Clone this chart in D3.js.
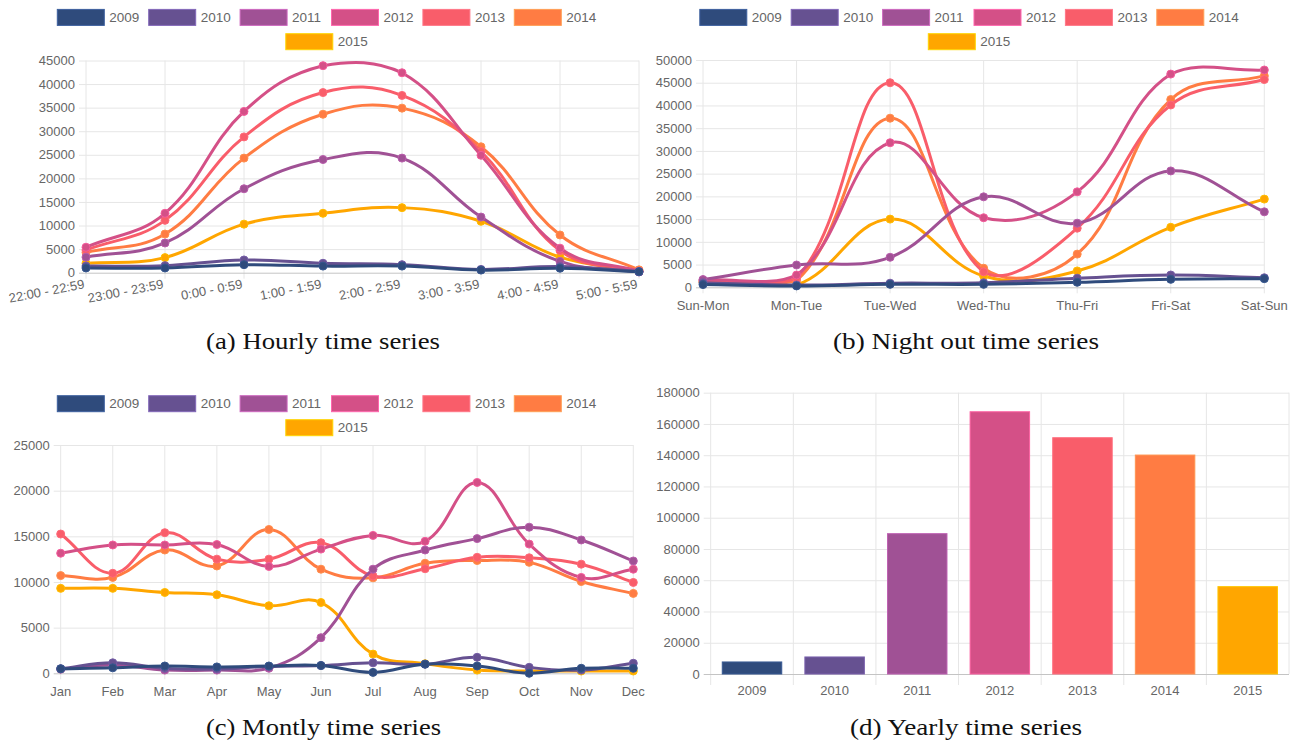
<!DOCTYPE html>
<html>
<head>
<meta charset="utf-8">
<script src="https://cdn.jsdelivr.net/npm/d3@7"></script>
<style>
  body { margin: 0; background: #fff; }
  svg { display: block; }
  text { font-family: "Liberation Sans", Arial, sans-serif; }
</style>
</head>
<body>
<svg id="chart" width="1297" height="743"></svg>
<script>
var years = ['2009', '2010', '2011', '2012', '2013', '2014', '2015'];
var colors = ['#2f4b7c', '#665191', '#a05195', '#d45087', '#f95d6a', '#ff7c43', '#ffa600'];

var hours = ['22:00 - 22:59', '23:00 - 23:59', '0:00 - 0:59', '1:00 - 1:59',
             '2:00 - 2:59', '3:00 - 3:59', '4:00 - 4:59', '5:00 - 5:59'];
// one row per year, 2009 .. 2015
var hourly = [
  [1000, 1000, 1700, 1400, 1400, 550, 950, 200],
  [1400, 1500, 2700, 2000, 1700, 700, 1300, 250],
  [3300, 6300, 17800, 24000, 24300, 11800, 2400, 150],
  [5400, 12600, 34200, 43900, 42400, 24900, 5200, 300],
  [4800, 11100, 28800, 38200, 37600, 25700, 4700, 250],
  [4300, 8200, 24300, 33600, 34900, 26700, 8000, 600],
  [2000, 3200, 10300, 12600, 13800, 10900, 3300, 300]
];

var nights = ['Sun-Mon', 'Mon-Tue', 'Tue-Wed', 'Wed-Thu', 'Thu-Fri', 'Fri-Sat', 'Sat-Sun'];
var nightly = [
  [600, 300, 650, 650, 1100, 1750, 1900],
  [1000, 500, 900, 1000, 2000, 2700, 2100],
  [1700, 4900, 6600, 19900, 14100, 25600, 16600],
  [1600, 2700, 31800, 15300, 21000, 46900, 47800],
  [1400, 2000, 45000, 3400, 13000, 40100, 45700],
  [1300, 1500, 37200, 4200, 7300, 41300, 46500],
  [1100, 500, 15000, 2500, 3600, 13200, 19400]
];

var months = ['Jan', 'Feb', 'Mar', 'Apr', 'May', 'Jun', 'Jul', 'Aug', 'Sep', 'Oct', 'Nov', 'Dec'];
var monthly = [
  [500, 600, 800, 700, 800, 850, 100, 1000, 800, 0, 550, 550],
  [500, 1150, 550, 470, 750, 850, 1150, 1000, 1750, 650, 350, 1100],
  [450, 900, 350, 350, 550, 3900, 11400, 13500, 14750, 16000, 14600, 12300],
  [13150, 14050, 14050, 14100, 11700, 13600, 15100, 14450, 20900, 14150, 10500, 11400],
  [15250, 10950, 15400, 12500, 12500, 14300, 10650, 11450, 12700, 12650, 11950, 9950],
  [10700, 10500, 13500, 11750, 15750, 11400, 10450, 12050, 12350, 12150, 10050, 8750],
  [9300, 9300, 8850, 8600, 7400, 7750, 2100, 1050, 350, 250, 250, 250]
];

var yearly = [7700, 10900, 89800, 167800, 151200, 140100, 55900];

var svg = d3.select('#chart');
var gridColor = '#e6e6e6', zeroColor = '#c4c4c4', labelColor = '#666';

// legend, two centred rows like chart.js does it
function drawLegend(cx, rowY) {
  var stride = 91.4;
  [years.slice(0, 6), years.slice(6)].forEach(function (row, r) {
    var x0 = cx - (row.length * stride - 10) / 2;
    row.forEach(function (yr, i) {
      var k = years.indexOf(yr), x = x0 + i * stride;
      svg.append('rect')
        .attr('x', x).attr('y', rowY[r] - 8)
        .attr('width', 47).attr('height', 16)
        .attr('fill', colors[k])
        .attr('stroke', d3.color(colors[k]).brighter(0.7))
        .attr('stroke-width', 1);
      svg.append('text')
        .attr('x', x + 52).attr('y', rowY[r])
        .attr('dy', '0.35em')
        .style('font-size', '13.5px')
        .style('fill', labelColor)
        .text(yr);
    });
  });
}

// chart.js style bezier (tension 0.4, control points capped to the chart area)
function splinePath(pts, area) {
  var t = 0.4;
  function cap(p) {
    return [Math.max(area.left, Math.min(area.right, p[0])),
            Math.max(area.top, Math.min(area.bottom, p[1]))];
  }
  var cps = pts.map(function (p, i) {
    var prev = pts[i - 1] || p, next = pts[i + 1] || p;
    var d01 = Math.hypot(p[0] - prev[0], p[1] - prev[1]);
    var d12 = Math.hypot(next[0] - p[0], next[1] - p[1]);
    var s01 = d01 / (d01 + d12) || 0, s12 = d12 / (d01 + d12) || 0;
    var dx = next[0] - prev[0], dy = next[1] - prev[1];
    return [cap([p[0] - t * s01 * dx, p[1] - t * s01 * dy]),
            cap([p[0] + t * s12 * dx, p[1] + t * s12 * dy])];
  });
  var path = d3.path();
  path.moveTo(pts[0][0], pts[0][1]);
  for (var i = 1; i < pts.length; i++) {
    path.bezierCurveTo(cps[i - 1][1][0], cps[i - 1][1][1],
                       cps[i][0][0], cps[i][0][1], pts[i][0], pts[i][1]);
  }
  return path.toString();
}

function yAxis(g, y, ticks, left, right) {
  var ax = g.append('g')
    .attr('transform', 'translate(' + left + ',0)')
    .call(d3.axisLeft(y).tickValues(ticks).tickSize(0).tickPadding(11).tickFormat(d3.format('d')));
  ax.select('.domain').remove();
  ax.selectAll('.tick line')
    .attr('x1', -7).attr('x2', right - left)
    .attr('stroke', function (d) { return d === 0 ? zeroColor : gridColor; });
  ax.selectAll('.tick text')
    .style('font-size', '13px').style('fill', labelColor).style('font-family', null);
  return ax;
}

function linePanel(opt) {
  var g = svg.append('g');
  var x = d3.scalePoint().domain(opt.labels).range([opt.left, opt.right]);
  var y = d3.scaleLinear().domain([0, opt.max]).range([opt.bottom, opt.top]);
  var area = { left: opt.left, right: opt.right, top: opt.top, bottom: opt.bottom };

  // vertical grid
  g.append('g').selectAll('line').data(opt.labels).join('line')
    .attr('x1', function (d) { return x(d); }).attr('x2', function (d) { return x(d); })
    .attr('y1', opt.top).attr('y2', opt.bottom + 6)
    .attr('stroke', gridColor);

  yAxis(g, y, d3.range(0, opt.max + 1, opt.step), opt.left, opt.right);

  // x labels
  var xl = g.append('g').selectAll('text').data(opt.labels).join('text')
    .style('font-size', '13px').style('fill', labelColor)
    .text(function (d) { return d; });
  if (opt.rotate) {
    xl.attr('text-anchor', 'end')
      .attr('transform', function (d) {
        return 'translate(' + (x(d) - 1) + ',' + (opt.bottom + 15.5) + ') rotate(' + opt.rotate + ')';
      });
  } else {
    xl.attr('text-anchor', 'middle')
      .attr('x', function (d) { return x(d); })
      .attr('y', opt.bottom + opt.labelDy);
  }

  // datasets: chart.js draws the last dataset first
  for (var k = opt.series.length - 1; k >= 0; k--) {
    var pts = opt.series[k].map(function (v, i) { return [x(opt.labels[i]), y(v)]; });
    var s = g.append('g');
    s.append('path')
      .attr('d', splinePath(pts, area))
      .attr('fill', 'none')
      .attr('stroke', colors[k])
      .attr('stroke-width', 3);
    s.selectAll('circle').data(pts).join('circle')
      .attr('cx', function (p) { return p[0]; })
      .attr('cy', function (p) { return p[1]; })
      .attr('r', 4)
      .attr('fill', colors[k])
      .attr('stroke', d3.color(colors[k]).brighter(0.4))
      .attr('stroke-width', 1);
  }
}

function caption(cx, by, txt, len) {
  svg.append('text')
    .attr('x', cx).attr('y', by)
    .attr('text-anchor', 'middle')
    .attr('textLength', len).attr('lengthAdjust', 'spacingAndGlyphs')
    .style('font-family', '"Liberation Serif", "DejaVu Serif", serif')
    .style('font-size', '24px')
    .style('fill', '#111')
    .text(txt);
}

// (a) hourly
drawLegend(326.5, [17.4, 41.7]);
linePanel({ labels: hours, series: hourly, max: 45000, step: 5000,
  left: 86, right: 639, top: 60.5, bottom: 272.7, rotate: -11 });
caption(323, 349, '(a) Hourly time series', 234);

// (b) night out
drawLegend(969, [17.4, 41.7]);
linePanel({ labels: nights, series: nightly, max: 50000, step: 5000,
  left: 703, right: 1264.3, top: 60, bottom: 287.3, labelDy: 22.5 });
caption(966, 349, '(b) Night out time series', 266);

// (c) monthly
drawLegend(326.5, [403.7, 427.7]);
linePanel({ labels: months, series: monthly, max: 25000, step: 5000,
  left: 60.7, right: 633.3, top: 445, bottom: 673.3, labelDy: 22.5 });
caption(323.5, 735, '(c) Montly time series', 235);

// (d) yearly bars
(function () {
  var left = 710.7, right = 1289, top = 392.7, bottom = 674;
  var g = svg.append('g');
  var x = d3.scaleBand().domain(years).range([left, right]);
  var y = d3.scaleLinear().domain([0, 180000]).range([bottom, top]);

  g.append('g').selectAll('line').data(years.concat(['end'])).join('line')
    .attr('x1', function (d, i) { return left + i * x.bandwidth(); })
    .attr('x2', function (d, i) { return left + i * x.bandwidth(); })
    .attr('y1', top).attr('y2', function (d, i) { return i === years.length ? bottom : bottom + 11; })
    .attr('stroke', gridColor);

  yAxis(g, y, d3.range(0, 180001, 20000), left, right);

  g.append('g').selectAll('rect').data(yearly).join('rect')
    .attr('x', function (d, i) { return x(years[i]) + x.bandwidth() * 0.14; })
    .attr('width', x.bandwidth() * 0.72)
    .attr('y', function (d) { return y(d); })
    .attr('height', function (d) { return bottom - y(d); })
    .attr('fill', function (d, i) { return colors[i]; })
    .attr('stroke', function (d, i) { return d3.color(colors[i]).brighter(0.5); })
    .attr('stroke-width', 1);

  g.append('g').selectAll('text').data(years).join('text')
    .attr('x', function (d) { return x(d) + x.bandwidth() / 2; })
    .attr('y', bottom + 20.5)
    .attr('text-anchor', 'middle')
    .style('font-size', '13px').style('fill', labelColor)
    .text(function (d) { return d; });
})();
caption(966, 735, '(d) Yearly time series', 232);
</script>
</body>
</html>
